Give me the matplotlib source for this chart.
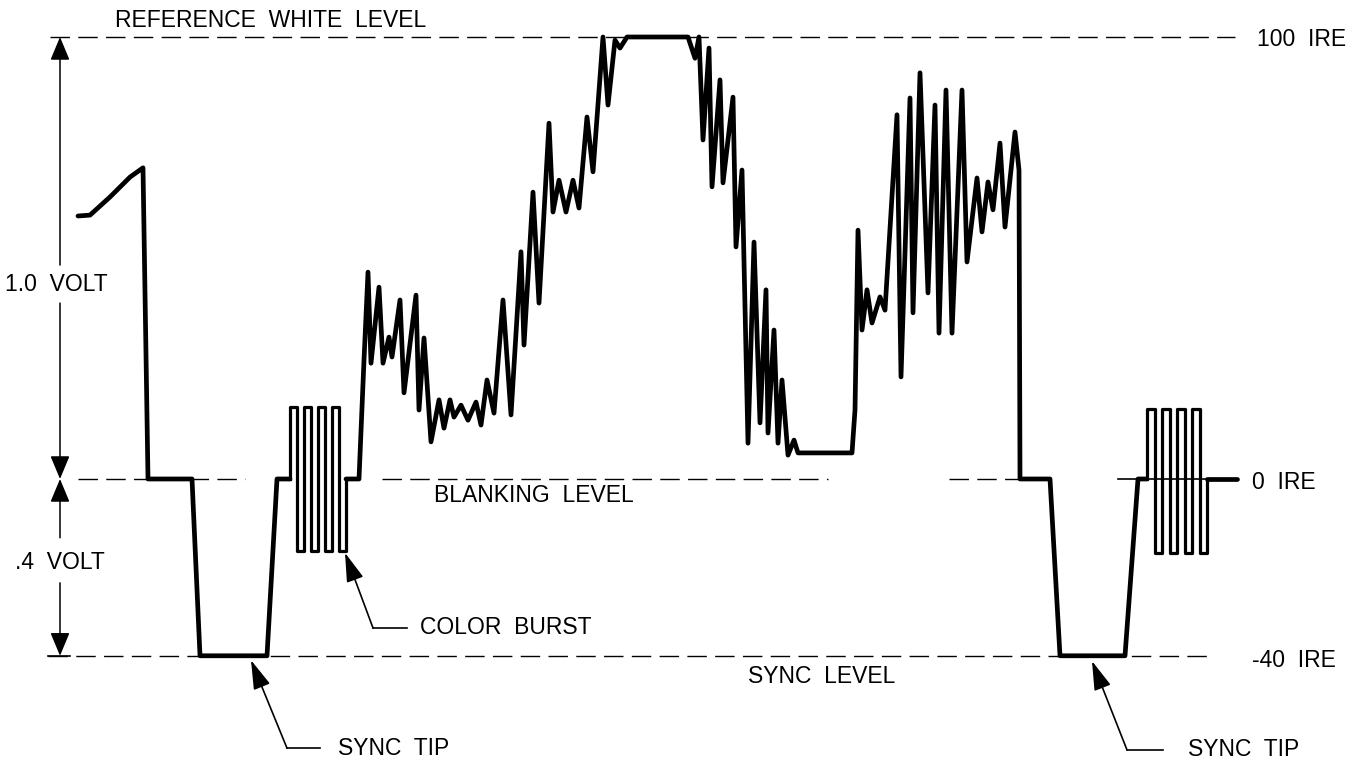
import matplotlib
matplotlib.use('Agg')
import matplotlib.pyplot as plt

plt.rcParams['font.family'] = ['Liberation Sans', 'DejaVu Sans']

# reference levels (IRE)
white_ire = 100
blank_ire = 0
sync_ire = -40

# end of previous line, first sync pulse, breezeway
lead_t = [78, 90, 110, 130, 143, 148, 192, 200, 267, 277, 290]
lead_v = [59.5, 59.7, 63.8, 68.3, 70.4, 0, 0, -40, -40, 0, 0]

# colour burst (positions of the vertical strokes) and its peak levels
burst1_x = [290, 297, 304, 311, 318, 325, 332, 339, 346]
burst1_hi, burst1_lo = 16.3, -16.3

# back porch + active picture
line_t = [346, 359, 364, 368, 371, 379, 383, 389, 392, 400,
          404, 416, 419, 424, 431, 439, 444, 450, 454, 461,
          468, 476, 481, 487, 494, 503, 511, 521, 524, 533,
          539, 549, 553, 559, 566, 573, 579, 587, 593, 603,
          608, 615, 620, 627, 688, 695, 699, 703, 709, 712,
          720, 723, 733, 736, 742, 748, 754, 760, 766, 768,
          774, 778, 782, 788, 794, 798, 852, 855, 858, 862,
          867, 872, 880, 885, 897, 901, 910, 913, 920, 928,
          935, 939, 946, 952, 962, 967, 977, 982, 988, 993,
          1000, 1005, 1015, 1019]
line_v = [0, 0, 26.9, 46.8, 26.2, 43.4, 26.2, 32.1, 27.6, 40.5,
          19.5, 41.6, 15.6, 31.9, 8.4, 17.9, 11.5, 17.9, 14.0, 16.7,
          13.3, 17.4, 12.2, 22.4, 14.9, 40.5, 14.5, 51.4, 30.3, 64.9,
          39.8, 80.5, 60.4, 67.6, 60.4, 67.6, 61.3, 81.9, 69.5, 100,
          84.6, 99.3, 97.5, 100, 100, 95.2, 100, 76.7, 97.5, 66.1,
          90.3, 67.0, 86.4, 52.5, 69.9, 8.1, 53.6, 12.7, 42.8, 10.4,
          33.7, 8.1, 22.4, 5.4, 8.8, 5.9, 5.9, 15.6, 56.3, 33.7,
          42.8, 35.3, 41.2, 38.2, 82.4, 23.1, 86.2, 37.6, 91.9, 42.1,
          84.6, 33.0, 88.0, 33.0, 88.0, 49.1, 68.1, 55.9, 67.2, 60.9,
          76.0, 57.0, 78.5, 69.9]

# front porch + second sync pulse
sync2_t = [1020, 1050, 1060, 1125, 1138, 1147]
sync2_v = [0, 0, -40, -40, 0, 0]

burst2_x = [1147, 1154.5, 1162, 1169.5, 1177, 1184.5, 1192, 1199.5, 1207]
burst2_hi, burst2_lo = 15.8, -16.7

tail_t = [1207, 1237]
tail_v = [0, 0]


def burst(xs, hi, lo):
    t, v = [xs[0], xs[0]], [0, hi]
    cur = hi
    for i, x in enumerate(xs[1:]):
        t.append(x)
        v.append(cur)
        if i == len(xs) - 2:
            t.append(x)
            v.append(0)
        else:
            cur = lo if cur == hi else hi
            t.append(x)
            v.append(cur)
    return t, v


fig = plt.figure(figsize=(13.62, 7.65), dpi=100)
ax = fig.add_axes([0, 0, 1, 1])
ax.set_xlim(0, 1362)
ax.set_ylim(-64.71, 108.37)
ax.axis('off')

# reference level lines
dash = dict(color='k', lw=1.0, dashes=(14, 6), zorder=1)
ax.plot([50, 1235], [white_ire, white_ire], **dash)
for a, b in [(78, 245), (382, 828), (949, 1018)]:
    ax.plot([a, b], [blank_ire, blank_ire], **dash)
ax.plot([1118, 1237], [blank_ire, blank_ire], color='k', lw=1.2, zorder=4)
ax.plot([48, 1210], [sync_ire, sync_ire], **dash)
ax.plot([48, 70], [sync_ire, sync_ire], color='k', lw=1.2)

# the video signal
wave = dict(color='k', lw=3.4, solid_joinstyle='round', solid_capstyle='round', zorder=3)
ax.plot(lead_t, lead_v, **wave)
ax.plot(line_t + sync2_t, line_v + sync2_v, **wave)
ax.plot(tail_t, tail_v, **wave)
for xs, hi, lo in [(burst1_x, burst1_hi, burst1_lo), (burst2_x, burst2_hi, burst2_lo)]:
    bt, bv = burst(xs, hi, lo)
    ax.plot(bt, bv, color='k', lw=2.3, solid_joinstyle='round', zorder=3)

# voltage span arrows
head = dict(arrowstyle='-|>,head_length=1.2,head_width=0.5', color='k', lw=1.1,
            shrinkA=0, shrinkB=0, mutation_scale=12)
ax.annotate('', xy=(60, 100), xytext=(60, 48.4), arrowprops=head)
ax.annotate('', xy=(60, 0), xytext=(60, 39.8), arrowprops=head)
ax.annotate('', xy=(60, 0), xytext=(60, -13.3), arrowprops=head)
ax.annotate('', xy=(60, -40), xytext=(60, -23.5), arrowprops=head)

fs = 16.5
ax.text(115, 103.8, 'REFERENCE  WHITE  LEVEL', fontsize=fs, va='center')
ax.text(1257, 99.5, '100  IRE', fontsize=fs, va='center')
ax.text(5, 44.1, '1.0  VOLT', fontsize=fs, va='center')
ax.text(15, -18.8, '.4  VOLT', fontsize=fs, va='center')
ax.text(434, -3.8, 'BLANKING  LEVEL', fontsize=fs, va='center')
ax.text(1252, -0.9, '0  IRE', fontsize=fs, va='center')
ax.text(1252, -41.0, '-40  IRE', fontsize=fs, va='center')
ax.text(748, -44.6, 'SYNC  LEVEL', fontsize=fs, va='center')

# callouts
pointer = dict(arrowstyle='-|>,head_length=1.5,head_width=0.45', color='k', lw=1.2,
               shrinkA=0, shrinkB=0, mutation_scale=12)
callouts = [('COLOR  BURST', (345, -16.7), (373, -33.7), 407, 420),
            ('SYNC  TIP', (251, -41.0), (287, -60.9), 320, 338),
            ('SYNC  TIP', (1092, -41.2), (1127, -61.3), 1163, 1188)]
for label, tip, bend, end, tx in callouts:
    ax.annotate('', xy=tip, xytext=bend, arrowprops=pointer)
    ax.plot([bend[0], end], [bend[1], bend[1]], color='k', lw=1.2)
    ax.text(tx, bend[1], label, fontsize=fs, va='center')

fig.savefig('out.png', dpi=100, facecolor='white')
